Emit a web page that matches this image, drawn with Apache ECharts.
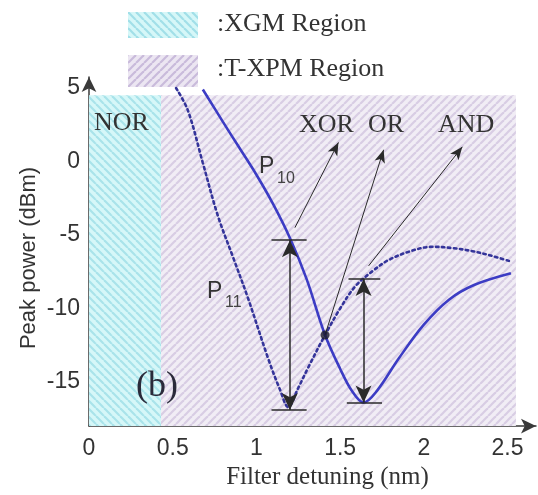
<!DOCTYPE html>
<html>
<head>
<meta charset="utf-8">
<script src="https://cdn.jsdelivr.net/npm/echarts@6/dist/echarts.min.js"></script>
<style>
  html, body { margin: 0; padding: 0; background: #fff; }
  #main { width: 538px; height: 495px; }
</style>
</head>
<body>
<div id="main"></div>
<script>
// P10 (solid) and P11 (dotted) peak power vs filter detuning
var detuningP10 = [0.68, 0.8, 0.9, 1.0, 1.1, 1.2, 1.3, 1.41, 1.5, 1.57, 1.64, 1.72, 1.85, 2.0, 2.15, 2.3, 2.52]
var powerP10 = [4.9, 2.7, 0.9, -0.9, -2.9, -5.2, -8.0, -11.8, -14.1, -15.6, -16.4, -15.6, -13.4, -11.1, -9.4, -8.4, -7.6]

var detuningP11 = [0.52, 0.59, 0.68, 0.77, 0.86, 0.95, 1.07, 1.14, 1.19, 1.25, 1.31, 1.41, 1.5, 1.59, 1.7, 1.79, 1.92, 2.05, 2.18, 2.29, 2.4, 2.52]
var powerP11 = [5, 3.5, -0.1, -3.7, -6.5, -9.3, -13.4, -15.5, -16.7, -15.4, -14.0, -11.8, -10.0, -8.5, -7.4, -6.7, -6.1, -5.8, -5.9, -6.1, -6.4, -6.8]

var xTicks = [0, 0.5, 1, 1.5, 2, 2.5]
var yTicks = [-15, -10, -5, 0, 5]

// regions [from, to] along the detuning axis
var xgmRegion = [0, 0.43]
var txpmRegion = [0.43, 2.55]
var regionTop = 4.5

var crossPoint = [1.41, -11.8]
// double arrows: x, top, bottom
var swingP10 = [1.2, -5.35, -16.9]
var swingAND = [1.64, -8.0, -16.4]
// pointer arrows: from -> to
var pointerXOR = [[1.23, -4.5], [1.49, 1.3]]
var pointerOR = [[1.41, -11.8], [1.76, 0.8]]
var pointerAND = [[1.67, -7.1], [2.23, 1.0]]

// diagonal stripe pattern, dir 1 = "\" , -1 = "/"
function hatch(bg, fg, dir) {
  var c = document.createElement('canvas')
  c.width = 8; c.height = 8
  var g = c.getContext('2d')
  g.fillStyle = bg
  g.fillRect(0, 0, 8, 8)
  g.strokeStyle = fg
  g.lineWidth = 2.2
  for (var k = -8; k <= 8; k += 8) {
    g.beginPath()
    if (dir > 0) {
      g.moveTo(k, 0)
      g.lineTo(k + 8, 8)
    } else {
      g.moveTo(k, 8)
      g.lineTo(k + 8, 0)
    }
    g.stroke()
  }
  return { image: c, repeat: 'repeat' }
}

var cyanHatch = hatch('#d6f7f8', '#a9e3ea', 1)
var purpleHatch = hatch('#f1edf5', '#d8cde4', -1)
var cyanHatchLegend = hatch('#d6f7f8', '#a2dfe8', 1)
var purpleHatchLegend = hatch('#ece6f2', '#c9bbdb', -1)

function pairs(xs, ys) {
  var out = []
  for (var i = 0; i < xs.length; i++) out.push([xs[i], ys[i]])
  return out
}

// one markLine segment, symbols set on each end
function seg(a, b, s0, s1, size, width) {
  var ls = { color: '#2a2a2a', width: width, type: 'solid' }
  return [
    { coord: a, symbol: s0, symbolSize: size, lineStyle: ls },
    { coord: b, symbol: s1, symbolSize: size, lineStyle: ls }
  ]
}

var annotations = [
  seg([swingP10[0] - 0.11, swingP10[1]], [swingP10[0] + 0.1, swingP10[1]], 'none', 'none', 1, 1.5),
  seg([swingP10[0] - 0.11, swingP10[2]], [swingP10[0] + 0.1, swingP10[2]], 'none', 'none', 1, 1.5),
  seg([swingP10[0], swingP10[1]], [swingP10[0], swingP10[2]], 'arrow', 'arrow', [12, 17], 1.5),
  seg([swingAND[0] - 0.09, swingAND[1]], [swingAND[0] + 0.1, swingAND[1]], 'none', 'none', 1, 1.5),
  seg([swingAND[0] - 0.1, swingAND[2]], [swingAND[0] + 0.11, swingAND[2]], 'none', 'none', 1, 1.5),
  seg([swingAND[0], swingAND[1]], [swingAND[0], swingAND[2]], 'arrow', 'arrow', [12, 17], 1.5),
  seg(pointerXOR[0], pointerXOR[1], 'none', 'arrow', [8, 13], 1),
  seg(pointerOR[0], pointerOR[1], 'none', 'arrow', [8, 13], 1),
  seg(pointerAND[0], pointerAND[1], 'none', 'arrow', [8, 13], 1)
]

var serif = '"Liberation Serif", "DejaVu Serif", serif'
var sans = '"Liberation Sans", Arial, sans-serif'

var myChart = echarts.init(document.getElementById('main'), null, { renderer: 'canvas' })

var option = {
  animation: false,
  backgroundColor: '#ffffff',
  grid: { left: 89, right: 2, top: 77, bottom: 67 },
  xAxis: {
    type: 'value',
    min: 0,
    max: 2.67,
    name: 'Filter detuning (nm)',
    nameLocation: 'middle',
    nameGap: 34,
    nameTextStyle: { fontFamily: serif, fontSize: 25, color: '#333', padding: [0, 0, 0, 30] },
    axisLine: { onZero: false, lineStyle: { color: '#3a3a3a', width: 1.5 }, symbol: ['none', 'arrow'], symbolSize: [11, 15] },
    axisTick: { inside: true, length: 5, customValues: xTicks, lineStyle: { color: '#555' } },
    axisLabel: { customValues: xTicks, fontFamily: sans, fontSize: 23, color: '#333', margin: 11 },
    splitLine: { show: false }
  },
  yAxis: {
    type: 'value',
    min: -18,
    max: 5.75,
    axisLine: { onZero: false, lineStyle: { color: '#3a3a3a', width: 1.5 }, symbol: ['none', 'arrow'], symbolSize: [11, 15] },
    axisTick: { inside: true, length: 5, customValues: yTicks, lineStyle: { color: '#555' } },
    axisLabel: { customValues: yTicks, fontFamily: sans, fontSize: 23, color: '#333', margin: 9 },
    splitLine: { show: false }
  },
  series: [
    {
      name: 'regions',
      type: 'line',
      data: [],
      z: 1,
      markArea: {
        silent: true,
        data: [
          [{ xAxis: xgmRegion[0], yAxis: regionTop, itemStyle: { color: cyanHatch } }, { xAxis: xgmRegion[1], yAxis: -18 }],
          [{ xAxis: txpmRegion[0], yAxis: regionTop, itemStyle: { color: purpleHatch } }, { xAxis: txpmRegion[1], yAxis: -18 }]
        ]
      }
    },
    {
      name: 'P11',
      type: 'line',
      data: pairs(detuningP11, powerP11),
      smooth: 0.35,
      showSymbol: false,
      z: 3,
      lineStyle: { color: '#34349a', width: 2.6, type: [2.5, 3.5], cap: 'round' }
    },
    {
      name: 'P10',
      type: 'line',
      data: pairs(detuningP10, powerP10),
      smooth: 0.35,
      showSymbol: false,
      z: 3,
      lineStyle: { color: '#3c3cc4', width: 2.6 }
    },
    {
      name: 'annotations',
      type: 'line',
      data: [],
      z: 4,
      markLine: {
        silent: true,
        label: { show: false },
        data: annotations
      }
    },
    {
      name: 'cross',
      type: 'scatter',
      data: [crossPoint],
      symbolSize: 9,
      z: 5,
      itemStyle: { color: '#1a1a2a' }
    }
  ],
  graphic: [
    { type: 'rect', left: 128, top: 12, shape: { width: 70, height: 26 }, style: { fill: cyanHatchLegend } },
    { type: 'rect', left: 128, top: 55, shape: { width: 70, height: 32 }, style: { fill: purpleHatchLegend } },
    { type: 'text', left: 217, top: 11, style: { text: ':XGM Region', font: '26px ' + serif, fill: '#333' } },
    { type: 'text', left: 217, top: 56, style: { text: ':T-XPM Region', font: '26px ' + serif, fill: '#333' } },
    { type: 'text', x: 29, y: 258, rotation: Math.PI / 2, style: { text: 'Peak power (dBm)', font: '22px ' + sans, fill: '#333', align: 'center', verticalAlign: 'middle' } },
    { type: 'text', left: 94, top: 110, z: 10, style: { text: 'NOR', font: '26px ' + serif, fill: '#333' } },
    { type: 'text', left: 299, top: 112, z: 10, style: { text: 'XOR', font: '26px ' + serif, fill: '#333' } },
    { type: 'text', left: 368, top: 112, z: 10, style: { text: 'OR', font: '26px ' + serif, fill: '#333' } },
    { type: 'text', left: 438, top: 112, z: 10, style: { text: 'AND', font: '26px ' + serif, fill: '#333' } },
    { type: 'text', left: 136, top: 369, z: 10, style: { text: '(b)', font: '36px ' + serif, fill: '#2a2a3a' } },
    { type: 'text', left: 259, top: 155, z: 10, style: { text: 'P', font: '23px ' + sans, fill: '#333' } },
    { type: 'text', left: 277, top: 171, z: 10, style: { text: '10', font: '16px ' + sans, fill: '#444' } },
    { type: 'text', left: 207, top: 280, z: 10, style: { text: 'P', font: '23px ' + sans, fill: '#333' } },
    { type: 'text', left: 225, top: 295, z: 10, style: { text: '11', font: '16px ' + sans, fill: '#444' } }
  ]
}

myChart.setOption(option)
</script>
</body>
</html>
